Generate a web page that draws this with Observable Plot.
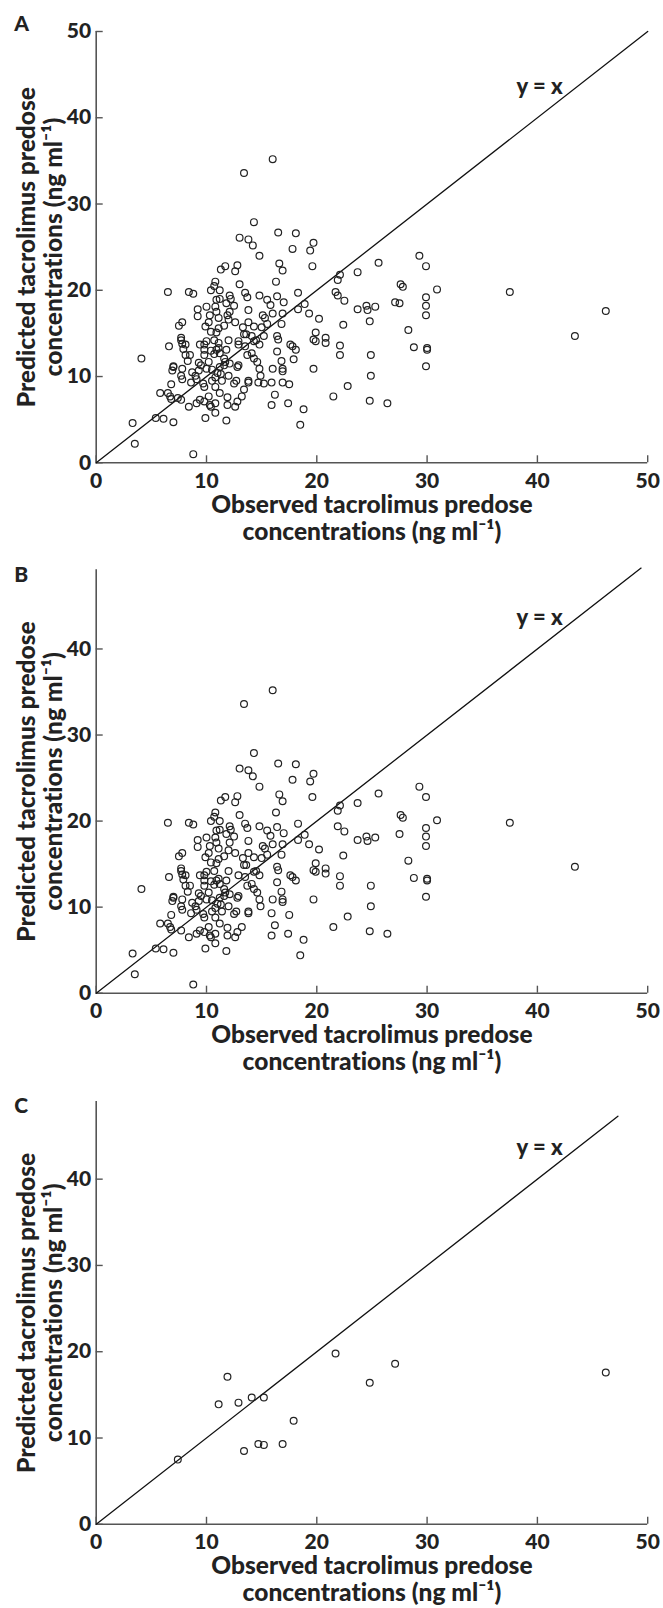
<!DOCTYPE html>
<html><head><meta charset="utf-8">
<script src="https://cdn.jsdelivr.net/npm/d3@7"></script>
<script src="https://cdn.jsdelivr.net/npm/@observablehq/plot@0.6"></script>
<style>
body{margin:0;background:#fff;}
#fig{position:relative;width:663px;height:1608px;background:#fff;}
#fig svg{position:absolute;left:0;}
#fig svg text{font-variant-ligatures:none;font-feature-settings:"liga" 0;}
</style></head><body><div id="fig"></div>
<script>
// Model-building data set (panel B)
const buildObs = [16.0,13.4,14.3,16.5,18.1,13.0,13.8,14.2,19.7,17.8,19.4,14.8,29.3,16.6,25.6,29.9,12.8,11.7,11.3,12.6,16.9,19.6,23.7,22.1,21.9,13.0,16.3,10.8,10.7,10.4,11.2,6.5,8.4,8.8,13.5,12.1,12.2,13.7,14.8,18.3,16.4,21.9,22.5,27.6,27.8,30.9,29.9,37.5,18.9,27.5,29.9,24.5,24.6,25.3,23.7,18.3,10.9,11.2,10.8,10.0,9.2,9.2,11.8,12.5,15.5,15.8,17.0,13.8,12.1,10.9,10.3,11.1,16.0,16.9,19.3,20.2,29.9,22.4,15.1,15.3,15.5,15.0,16.8,16.4,13.8,14.3,13.3,13.4,12.6,12.0,11.6,11.1,10.2,9.9,10.4,10.9,7.8,7.5,7.7,7.7,7.8,8.1,7.9,8.1,8.5,6.6,4.1,8.3,9.3,9.8,9.4,10.0,9.8,9.8,10.7,10.9,11.2,11.6,12.0,11.8,12.9,13.5,14.3,14.5,14.8,14.1,14.3,14.6,14.8,13.7,12.9,12.8,12.1,11.7,11.6,11.2,10.5,10.0,9.3,11.0,11.3,10.8,12.0,12.5,12.7,13.8,13.8,15.9,17.5,16.4,16.5,16.0,16.8,16.9,16.9,17.6,17.8,18.1,14.9,19.7,19.9,19.9,20.8,20.8,22.1,22.1,24.9,24.9,19.7,28.8,28.3,30.0,30.0,29.9,43.4,8.8,3.5,3.3,5.4,6.1,7.0,6.5,5.8,6.7,6.8,6.8,7.7,7.8,7.8,7.7,7.0,7.0,6.9,8.4,8.7,9.0,9.1,8.6,9.1,9.4,9.7,9.8,9.9,9.8,10.2,10.3,10.4,10.8,10.8,10.8,11.2,11.8,11.9,11.9,12.6,12.8,13.2,15.9,16.2,17.4,18.5,18.8,21.5,22.8,24.8,26.4,13.6,10.4,10.7,10.2,9.5,11.1,10.5,11.4];
const buildPred = [35.2,33.6,27.9,26.7,26.6,26.1,25.9,25.2,25.5,24.8,24.6,24.0,24.0,23.1,23.2,22.8,22.9,22.8,22.4,22.2,22.3,22.8,22.1,21.8,21.2,20.7,21.0,21.0,20.5,20.0,20.0,19.8,19.8,19.6,19.7,19.4,19.0,19.2,19.4,19.7,19.3,19.4,18.8,20.7,20.4,20.1,19.2,19.8,18.4,18.5,18.2,18.2,17.7,18.1,17.8,17.8,18.9,19.0,18.1,18.1,17.8,17.0,18.5,18.2,18.9,18.3,18.6,17.7,17.5,17.5,17.1,16.8,17.3,17.3,17.3,16.7,17.1,16.0,17.1,16.8,16.1,15.7,16.1,14.7,16.3,15.8,15.7,14.9,16.3,16.6,15.9,15.6,16.3,15.8,15.2,15.1,16.3,15.9,14.5,14.2,13.8,13.7,13.2,12.5,12.5,13.5,12.1,11.8,11.6,13.7,13.7,14.1,13.1,12.5,14.2,13.1,12.7,12.1,14.2,13.1,13.7,13.5,14.1,14.2,13.7,12.7,12.1,11.7,10.9,12.5,11.3,11.1,11.5,11.7,11.3,11.1,10.8,10.9,10.7,10.4,10.3,9.9,10.1,9.2,9.5,9.5,9.3,9.3,9.1,12.9,14.3,10.9,11.8,10.9,10.6,13.7,13.5,13.1,10.1,14.3,14.1,15.1,14.5,13.9,13.6,12.5,12.5,10.1,10.9,13.4,15.4,13.3,13.1,11.2,14.7,1.0,2.2,4.6,5.2,5.1,4.7,8.1,8.1,7.7,7.4,9.1,7.3,10.9,9.7,10.1,11.1,11.2,10.7,6.5,10.5,10.1,9.7,9.3,6.9,7.3,9.2,8.8,5.2,7.1,7.7,6.7,6.5,6.9,5.8,8.8,8.1,4.9,7.6,6.7,6.5,7.1,7.7,6.7,7.9,6.9,4.4,6.2,7.7,8.9,7.2,6.9,14.9,13.0,12.6,11.7,11.3,13.3,9.5,9.5];
// Validation data set (panel C)
const validObs = [7.4,11.1,11.9,12.9,13.4,14.1,14.7,15.2,15.2,16.9,17.9,21.7,24.8,27.1,46.2];
const validPred = [7.5,13.9,17.1,14.1,8.5,14.7,9.3,9.2,14.7,9.3,12.0,19.8,16.4,18.6,17.6];

const panelLabels = ["A","B","C"];
const xTicks = [0,10,20,30,40,50];
const yTicksA = [0,10,20,30,40,50];
const yTicksBC = [0,10,20,30,40];
const yTop = [50,49.2,49.0];
const lineEnd = [50,49.4,47.3];
const refLabel = "y = x";
const refLabelPos = [40.2,42.8];
const xTitle = "Observed tacrolimus predose\nconcentrations (ng ml\u207B\u00B9)";
const yTitle = "Predicted tacrolimus predose\nconcentrations (ng ml\u207B\u00B9)";

const toRows = (xs, ys) => xs.map((v,i)=>({obs:v, pred:ys[i]}));
const buildRows = toRows(buildObs, buildPred);
const validRows = toRows(validObs, validPred);
const panelData = [buildRows.concat(validRows), buildRows, validRows];

const layout = [
  {top:0, height:545, mt:31, mb:82.7, labelDy:-1},
  {top:545, height:530, mt:24.3, mb:82.3, labelDy:12},
  {top:1075, height:533, mt:26, mb:84.2, labelDy:11}
];
const FONT = "Lato, 'Open Sans', sans-serif";
const W = 900;
const fig = document.getElementById("fig");

panelLabels.forEach((lab, i) => {
  const L = layout[i];
  const yT = i === 0 ? yTicksA : yTicksBC;
  const svg = Plot.plot({
    width: 663, height: L.height,
    marginLeft: 95.7, marginRight: 15.8, marginTop: L.mt, marginBottom: L.mb,
    x: {domain: [0,50]},
    y: {domain: [0, yTop[i]]},
    style: {fontFamily: FONT, fontWeight: W, color: "#222", background: "white", overflow: "visible"},
    marks: [
      Plot.ruleX([0], {stroke: "#555", strokeWidth: 1.6}),
      Plot.ruleY([0], {stroke: "#555", strokeWidth: 1.6}),
      Plot.axisX(xTicks, {tickSize: -7, tickPadding: 17, fontSize: 21, fontWeight: W, stroke: "#555", strokeWidth: 1.4, label: null}),
      Plot.axisY(yT, {tickSize: -7, tickPadding: 12, fontSize: 21, fontWeight: W, stroke: "#555", strokeWidth: 1.4, label: null}),
      Plot.line([[0,0],[lineEnd[i], lineEnd[i]]], {stroke: "#111", strokeWidth: 1.3}),
      Plot.dot(panelData[i], {x: "obs", y: "pred", r: 3.4, stroke: "#222", strokeWidth: 1.2, fill: "none"}),
      Plot.text([refLabel], {x: () => refLabelPos[0], y: () => refLabelPos[1], text: d => d, fontSize: 22, fontWeight: W, fill: "#222", textAnchor: "middle", lineAnchor: "bottom"}),
      Plot.text([lab], {frameAnchor: "top-left", text: d => d, dx: -82, dy: L.labelDy, textAnchor: "start", lineAnchor: "bottom", fontSize: 21, fontWeight: W, fill: "#222"}),
      Plot.text([xTitle], {frameAnchor: "bottom", text: d => d, dy: 31, textAnchor: "middle", lineAnchor: "top", lineHeight: 1.1, fontSize: 24.5, fontWeight: W, fill: "#222"}),
      Plot.text([yTitle], {frameAnchor: "left", text: d => d, dx: -56.5, rotate: -90, textAnchor: "middle", lineAnchor: "middle", lineHeight: 1.12, fontSize: 24.5, fontWeight: W, fill: "#222"})
    ]
  });
  svg.style.top = L.top + "px";
  fig.appendChild(svg);
});
</script>
</body></html>
